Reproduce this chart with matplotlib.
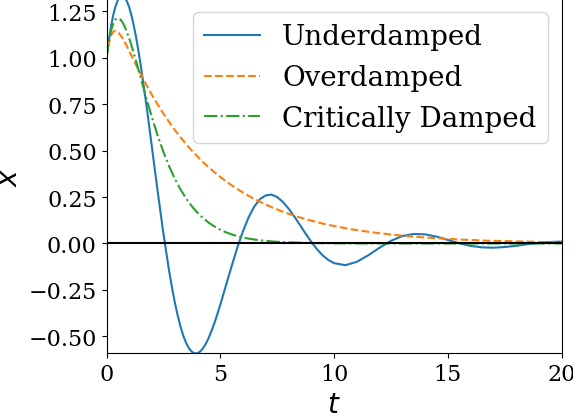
import matplotlib
matplotlib.use("Agg")
import matplotlib.pyplot as plt

# time samples (overdamped / critically damped)
t = [0.0, 0.1, 0.2, 0.3, 0.4, 0.5, 0.6, 0.7, 0.8, 0.9, 1.0, 1.1, 1.2, 1.3, 1.4, 1.5,
     1.75, 2.0, 2.25, 2.5, 2.75, 3.0, 3.25, 3.5, 3.75, 4.0, 4.25, 4.5, 4.75, 5.0,
     5.25, 5.5, 5.75, 6.0, 6.25, 6.5, 6.75, 7.0, 7.25, 7.5, 7.75, 8.0, 8.25, 8.5,
     8.75, 9.0, 9.25, 9.5, 9.75, 10.0,
     10.5, 11.0, 11.5, 12.0, 12.5, 13.0, 13.5, 14.0, 14.5, 15.0, 15.5, 16.0, 16.5,
     17.0, 17.5, 18.0, 18.5, 19.0, 19.5, 20.0]

# time samples for the underdamped curve (denser around its deep minimum)
t_under = [0.0, 0.1, 0.2, 0.3, 0.4, 0.5, 0.6, 0.7, 0.8, 0.9, 1.0, 1.1, 1.2, 1.3, 1.4, 1.5,
           1.75, 2.0, 2.25, 2.5, 2.75, 2.875, 3.0, 3.125, 3.25, 3.375, 3.5, 3.625, 3.75,
           3.875, 4.0, 4.125, 4.25, 4.375, 4.5, 4.625, 4.75, 4.875, 5.0,
           5.25, 5.5, 5.75, 6.0, 6.25, 6.5, 6.75, 7.0, 7.25, 7.5, 7.75, 8.0, 8.25, 8.5,
           8.75, 9.0, 9.25, 9.5, 9.75, 10.0,
           10.5, 11.0, 11.5, 12.0, 12.5, 13.0, 13.5, 14.0, 14.5, 15.0, 15.5, 16.0, 16.5,
           17.0, 17.5, 18.0, 18.5, 19.0, 19.5, 20.0]

underdamped = [1.000, 1.092, 1.170, 1.232, 1.279, 1.311, 1.329, 1.333, 1.324, 1.303,
               1.270, 1.226, 1.172, 1.110, 1.039, 0.962,
               0.748, 0.514, 0.279, 0.054, -0.147, -0.236, -0.316, -0.386, -0.447,
               -0.497, -0.536, -0.565, -0.583, -0.592, -0.591, -0.581, -0.563, -0.538,
               -0.506, -0.468, -0.426, -0.379, -0.330,
               -0.226, -0.122, -0.022, 0.067,
               0.142, 0.200, 0.239, 0.259, 0.263, 0.250, 0.224, 0.188, 0.146, 0.100,
               0.053, 0.009, -0.031, -0.064, -0.089, -0.106,
               -0.117, -0.099, -0.064, -0.023, 0.014, 0.040, 0.051, 0.049, 0.037,
               0.019, 0.001, -0.013, -0.021, -0.023, -0.019, -0.013, -0.004, 0.003,
               0.008, 0.010]

overdamped = [1.000, 1.078, 1.121, 1.141, 1.145, 1.138, 1.124, 1.106, 1.084, 1.061,
              1.036, 1.011, 0.986, 0.961, 0.937, 0.913,
              0.854, 0.799, 0.748, 0.699, 0.654, 0.611, 0.572, 0.535, 0.500,
              0.468, 0.437, 0.409, 0.383, 0.358, 0.335, 0.313, 0.293, 0.274,
              0.256, 0.239, 0.224, 0.209, 0.196, 0.183, 0.171, 0.160, 0.150, 0.140,
              0.131, 0.123, 0.115, 0.107, 0.100, 0.094,
              0.082, 0.072, 0.063, 0.055, 0.048, 0.042, 0.037, 0.032, 0.028,
              0.025, 0.021, 0.019, 0.016, 0.014, 0.013, 0.011, 0.010, 0.008,
              0.007, 0.006]

critical = [1.000, 1.086, 1.146, 1.185, 1.207, 1.213, 1.207, 1.192, 1.168, 1.136,
            1.104, 1.065, 1.024, 0.981, 0.937, 0.893,
            0.782, 0.677, 0.580, 0.493, 0.416, 0.349, 0.291, 0.242, 0.200,
            0.165, 0.136, 0.111, 0.091, 0.074, 0.060, 0.049, 0.040, 0.032,
            0.026, 0.021, 0.017, 0.014, 0.011, 0.009, 0.007, 0.006, 0.005, 0.004,
            0.003, 0.002, 0.002, 0.0015, 0.001, 0.001,
            0.0006, 0.0004, 0.0002, 0.0002, 0.0001, 0.0001, 0.0, 0.0, 0.0,
            0.0, 0.0, 0.0, 0.0, 0.0, 0.0, 0.0, 0.0, 0.0,
            0.0, 0.0]

labels = ["Underdamped", "Overdamped", "Critically Damped"]
x_ticks = [0, 5, 10, 15, 20]
y_ticks = [-0.50, -0.25, 0.00, 0.25, 0.50, 0.75, 1.00, 1.25]

plt.rcParams["font.family"] = "serif"
plt.rcParams["font.serif"] = ["DejaVu Serif"]

fig = plt.figure(figsize=(5.73, 4.14), dpi=100)
ax = fig.add_axes([0.1859, 0.1442, 0.7941, 0.8572])

ax.plot(t_under, underdamped, color="C0", lw=1.5, ls="-", label=labels[0])
ax.plot(t, overdamped, color="C1", lw=1.5, ls="--", label=labels[1])
ax.plot(t, critical, color="C2", lw=1.5, ls="-.", label=labels[2])
ax.axhline(0, color="k", lw=1.5)

ax.set_xlim(0, 20)
ax.set_ylim(-0.5915, 1.3195)
ax.set_xticks(x_ticks)
ax.set_yticks(y_ticks)
ax.tick_params(labelsize=16)
ax.set_xlabel("$t$", fontsize=20)
ax.set_ylabel("$x$", fontsize=20)
ax.legend(loc="upper right", fontsize=20)

fig.savefig("out.png", dpi=100)
